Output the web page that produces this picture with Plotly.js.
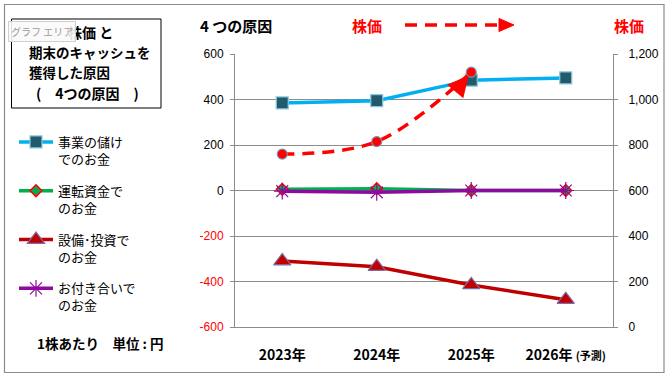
<!DOCTYPE html>
<html><head><meta charset="utf-8">
<script src="https://cdn.plot.ly/plotly-3.0.1.min.js"></script>
<style>html,body{margin:0;padding:0;background:#fff}#c{width:671px;height:379px}</style>
</head><body><div id="c"></div>
<script>
// ---- data ----
const years = ['2023年','2024年','2025年','2026年'];
const xTickText = ['2023年','2024年','2025年','2026年 <span style="font-size:11px">(予測)</span>'];
const seriesNames = ['事業の儲け<br>でのお金','運転資金で<br>のお金','設備･投資で<br>のお金','お付き合いで<br>のお金'];
const operating = [385, 395, 485, 495];
const workingCap = [5, 8, 0, 0];
const capex = [-310, -335, -415, -480];
const relations = [-3, -8, 0, 0];
const stockPrice = [760, 815, 1120, null];
const yTickVals = [-600,-400,-200,0,200,400,600];
const y2TickVals = [0,200,400,600,800,1000,1200];

// ---- layout helpers (plot area px: x 235..613, y 54..327) ----
const PL=235, PR=613, PT=54, PB=327;
const px = v => (v-PL)/(PR-PL);
const py = v => (PB-v)/(PB-PT);
const JP = '"Noto Sans CJK JP", "Noto Sans", sans-serif';
const NUM = '"Liberation Sans", Arial, sans-serif';

const yTickText = yTickVals.map(v => v<0 ? '<span style="color:#FF0000">'+v+'</span>' : String(v));

const traces = [
 {x:years, y:operating, name:seriesNames[0], type:'scatter', mode:'lines+markers', legendgroup:'a',
  line:{color:'#00B0F0', width:3.5}, marker:{symbol:'square', size:12, color:'#215A6B', line:{color:'#8CC8DC', width:1.2}}},
 {x:years, y:workingCap, name:seriesNames[1], type:'scatter', mode:'lines+markers', legendgroup:'b',
  line:{color:'#00B050', width:3.5}, marker:{symbol:'diamond', size:9, color:'#00B050', line:{color:'#FF0000', width:1.5}}},
 {x:years, y:capex, name:seriesNames[2], type:'scatter', mode:'lines+markers', legendgroup:'c',
  line:{color:'#C00000', width:3.5}, marker:{symbol:'triangle-up', size:15, color:'#C00000', line:{color:'#7F6AA8', width:1.2}}},
 {x:years, y:relations, name:seriesNames[3], type:'scatter', mode:'lines+markers', legendgroup:'d',
  line:{color:'#8E0A9E', width:3.5}, marker:{symbol:'asterisk-open', size:14, color:'#8E0A9E', line:{color:'#8E0A9E', width:1.2}}},
 {x:years, y:stockPrice, name:'株価', type:'scatter', mode:'lines+markers', yaxis:'y2', showlegend:false,
  line:{color:'#FF0000', width:3.5, dash:'12px,8px', shape:'spline', smoothing:1}, connectgaps:false,
  marker:{symbol:'circle', size:10, color:'#FF0000', line:{color:'#7F8FB0', width:1.2}}}
];

const annotations = [
 // arrow head at end of stock line
 {x:years[2], y:stockPrice[2], xref:'x', yref:'y2', text:'', showarrow:true, ax:-15, ay:18,
  arrowhead:2, arrowsize:1.2, arrowwidth:3.5, arrowcolor:'#FF0000', standoff:4},
 // title box lines
 {x:px(66), y:py(32), xref:'paper', yref:'paper', xanchor:'left', yanchor:'middle', showarrow:false, text:'<b>株価 と</b>', font:{family:JP, size:14, color:'#000'}},
 {x:px(27), y:py(52), xref:'paper', yref:'paper', xanchor:'left', yanchor:'middle', showarrow:false, text:'<b>期末のキャッシュを</b>', font:{family:JP, size:13.5, color:'#000'}},
 {x:px(27), y:py(72), xref:'paper', yref:'paper', xanchor:'left', yanchor:'middle', showarrow:false, text:'<b>獲得した原因</b>', font:{family:JP, size:13.5, color:'#000'}},
 {x:px(34), y:py(93), xref:'paper', yref:'paper', xanchor:'left', yanchor:'middle', showarrow:false, text:'<b>(　4つの原因　)</b>', font:{family:JP, size:14, color:'#000'}},
 // tooltip overlay
 {x:px(8), y:py(31), xref:'paper', yref:'paper', xanchor:'left', yanchor:'middle', showarrow:false, text:'グラフ エリア',
  font:{family:JP, size:10, color:'#9a9a9a'}, bgcolor:'rgba(250,250,250,0.9)', bordercolor:'#d0d0d0', borderwidth:1, borderpad:2},
 // header
 {x:px(198), y:py(26), xref:'paper', yref:'paper', xanchor:'left', yanchor:'middle', showarrow:false, text:'<b>4 つの原因</b>', font:{family:JP, size:15, color:'#000'}},
 {x:px(367), y:py(26), xref:'paper', yref:'paper', xanchor:'center', yanchor:'middle', showarrow:false, text:'<b>株価</b>', font:{family:JP, size:15, color:'#FF0000'}},
 {x:px(629), y:py(26), xref:'paper', yref:'paper', xanchor:'center', yanchor:'middle', showarrow:false, text:'<b>株価</b>', font:{family:JP, size:15, color:'#FF0000'}},
 // unit
 {x:px(100), y:py(343), xref:'paper', yref:'paper', xanchor:'center', yanchor:'middle', showarrow:false, text:'<b>1株あたり　単位 : 円</b>', font:{family:JP, size:13.5, color:'#000'}}
];

const shapes = [
 {type:'rect', xref:'paper', yref:'paper', x0:px(4.5), x1:px(664), y0:py(4.5), y1:py(372.5), line:{color:'#8c8c8c', width:1.2}, layer:'below'},
 {type:'rect', xref:'paper', yref:'paper', x0:px(11.5), x1:px(161), y0:py(19), y1:py(108), line:{color:'#000', width:1}},
 {type:'line', xref:'paper', yref:'paper', x0:px(405), x1:px(502), y0:py(25), y1:py(25), line:{color:'#FF0000', width:3.5, dash:'12px,8px'}},
 {type:'path', xref:'paper', yref:'paper', path:'M'+px(499)+','+py(18.5)+' L'+px(514)+','+py(25)+' L'+px(499)+','+py(31.5)+' Z', fillcolor:'#FF0000', line:{color:'#FF0000', width:1}}
];

const layout = {
 width:671, height:379, margin:{l:PL, r:671-PR, t:PT, b:379-PB, pad:0},
 paper_bgcolor:'#fff', plot_bgcolor:'#fff', showlegend:true,
 font:{family:JP, color:'#000'},
 xaxis:{type:'category', range:[-0.5,3.5], tickvals:years, ticktext:xTickText, showgrid:false, showline:true, linecolor:'#8c8c8c', linewidth:1,
  ticks:'', ticklabelstandoff:15, tickfont:{family:JP, size:14, color:'#000', weight:'bold'}, zeroline:false, fixedrange:true},
 yaxis:{range:[-600,600], tickvals:yTickVals, ticktext:yTickText, showgrid:true, gridcolor:'#8c8c8c', gridwidth:1, showline:true, linecolor:'#8c8c8c',
  ticks:'outside', ticklen:4, tickcolor:'#8c8c8c', zeroline:false, tickfont:{family:NUM, size:12, color:'#000'}, ticklabelstandoff:4},
 yaxis2:{range:[0,1200], overlaying:'y', side:'right', tickvals:y2TickVals, tickformat:',d', showgrid:false, showline:true, linecolor:'#8c8c8c',
  ticks:'outside', ticklen:4, tickcolor:'#8c8c8c', zeroline:false, tickfont:{family:NUM, size:12, color:'#000'}, ticklabelstandoff:8},
 legend:{x:px(14), y:py(127), xanchor:'left', yanchor:'top', bgcolor:'rgba(0,0,0,0)', borderwidth:0, valign:'top', tracegroupgap:12,
  font:{family:JP, size:13, color:'#000'}, itemwidth:34},
 annotations:annotations, shapes:shapes
};
Plotly.newPlot('c', traces, layout, {displayModeBar:false, staticPlot:true});
</script></body></html>
